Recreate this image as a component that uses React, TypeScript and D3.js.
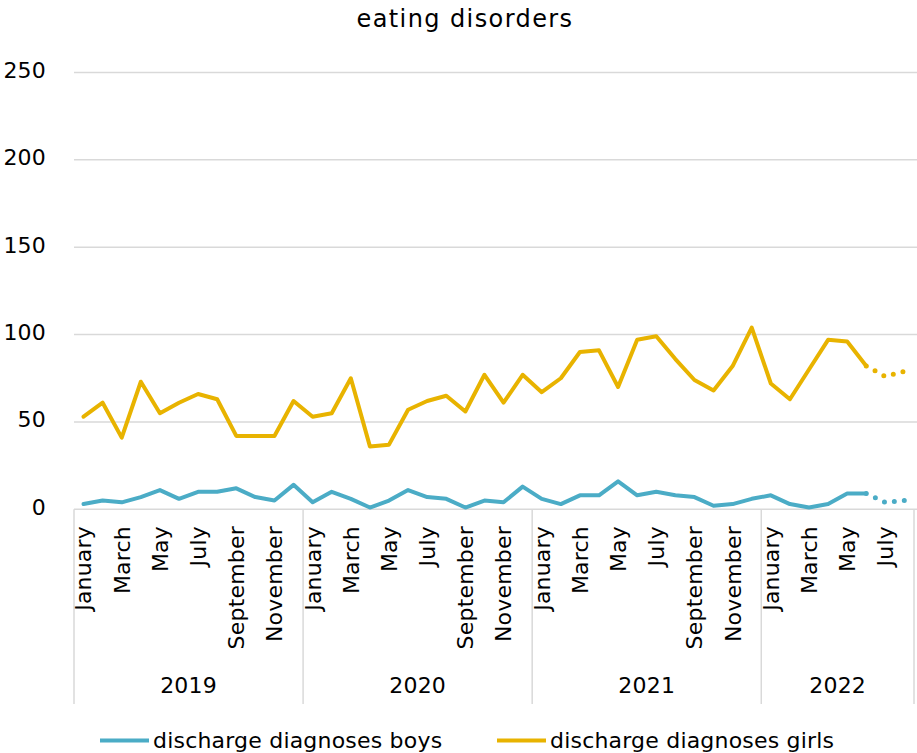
import React from 'react';
import * as d3 from 'd3';

// Monthly discharge diagnoses for eating disorders, Jan 2019 – Aug 2022
const years = ['2019', '2020', '2021', '2022'];
const monthsPerYear = [12, 12, 12, 8];
const monthNames = [
  'January', 'February', 'March', 'April', 'May', 'June',
  'July', 'August', 'September', 'October', 'November', 'December',
];
const boys = [
  3, 5, 4, 7, 11, 6, 10, 10, 12, 7, 5, 14,
  4, 10, 6, 1, 5, 11, 7, 6, 1, 5, 4, 13,
  6, 3, 8, 8, 16, 8, 10, 8, 7, 2, 3, 6,
  8, 3, 1, 3, 9, 9, 4, 5,
];
const girls = [
  53, 61, 41, 73, 55, 61, 66, 63, 42, 42, 42, 62,
  53, 55, 75, 36, 37, 57, 62, 65, 56, 77, 61, 77,
  67, 75, 90, 91, 70, 97, 99, 86, 74, 68, 82, 104,
  72, 63, 80, 97, 96, 82, 76, 79,
];
// index of the last confirmed month (June 2022); later months are provisional
const lastConfirmed = 41;
const yTicks = [0, 50, 100, 150, 200, 250];
const seriesNames = ['discharge diagnoses boys', 'discharge diagnoses girls'];
const seriesColors = ['#4bacc6', '#e8b300'];

const W = 917;
const H = 753;
const FONT = 'DejaVu Sans, Verdana, sans-serif';
const FS = 22;
const LS = 0.2;

type Cat = { key: string; year: string; month: string; mi: number };
const categories: Cat[] = years.flatMap((y, yi) =>
  d3.range(monthsPerYear[yi]).map((mi) => ({ key: `${y}-${mi}`, year: y, month: monthNames[mi], mi }))
);

export default function App() {
  const x = d3.scaleBand<string>().domain(categories.map((c) => c.key)).range([74, 914]).padding(0);
  const y = d3.scaleLinear().domain([0, 250]).range([509.3, 72.5]);
  const cx = (i: number) => (x(categories[i].key) ?? 0) + x.bandwidth() / 2;

  const line = d3
    .line<[number, number]>()
    .x((d) => cx(d[0]))
    .y((d) => y(d[1]));

  const solid = (vals: number[]) => line(vals.slice(0, lastConfirmed + 1).map((v, i) => [i, v]));
  const dotted = (vals: number[]) =>
    line(vals.slice(lastConfirmed).map((v, i) => [i + lastConfirmed, v]));

  // year group boundaries
  let acc = 0;
  const groups = years.map((yr, yi) => {
    const start = acc;
    acc += monthsPerYear[yi];
    const x0 = x(categories[start].key) ?? 0;
    const x1 = (x(categories[acc - 1].key) ?? 0) + x.bandwidth();
    return { yr, x0, x1 };
  });

  const axisY = y(0);
  const series = [boys, girls];

  return (
    <svg width={W} height={H} style={{ position: 'absolute', left: 0, top: 0, background: '#fff' }} fontFamily={FONT}>
      <text x={465} y={27} textAnchor="middle" fontSize={24} letterSpacing={1.4} fill="#000">
        eating disorders
      </text>

      {/* gridlines and value labels */}
      {yTicks.map((t) => (
        <g key={t}>
          <line x1={74} x2={917} y1={y(t)} y2={y(t)} stroke="#d9d9d9" strokeWidth={1.5} />
          <text x={46} y={y(t)} dy="0.25em" textAnchor="end" fontSize={FS} letterSpacing={LS} fill="#000">
            {t}
          </text>
        </g>
      ))}

      {/* category axis: months and years */}
      {groups.map((g, i) => (
        <g key={g.yr}>
          <line x1={g.x0} x2={g.x0} y1={axisY} y2={704} stroke="#d9d9d9" strokeWidth={1.5} />
          {i === groups.length - 1 && (
            <line x1={g.x1} x2={g.x1} y1={axisY} y2={704} stroke="#d9d9d9" strokeWidth={1.5} />
          )}
          <text x={(g.x0 + g.x1) / 2} y={693} textAnchor="middle" fontSize={FS} letterSpacing={LS} fill="#000">
            {g.yr}
          </text>
        </g>
      ))}
      {categories.map((c, i) =>
        c.mi % 2 === 0 ? (
          <text
            key={c.key}
            transform={`translate(${cx(i)},526) rotate(-90)`}
            textAnchor="end"
            dy="0.36em"
            fontSize={FS}
            letterSpacing={LS}
            fill="#000"
          >
            {c.month}
          </text>
        ) : null
      )}

      {/* series */}
      {series.map((vals, si) => (
        <g key={si}>
          <path d={solid(vals) ?? ''} fill="none" stroke={seriesColors[si]} strokeWidth={4} strokeLinejoin="round" strokeLinecap="round" />
          <path d={dotted(vals) ?? ''} fill="none" stroke={seriesColors[si]} strokeWidth={5} strokeLinecap="round" strokeDasharray="0 10" />
        </g>
      ))}

      {/* legend */}
      {seriesNames.map((name, i) => {
        const lx = i === 0 ? 100 : 497;
        return (
          <g key={name}>
            <line x1={lx} x2={lx + 49} y1={740.5} y2={740.5} stroke={seriesColors[i]} strokeWidth={4} />
            <text x={lx + 53} y={740.5} dy="0.32em" fontSize={FS} letterSpacing={LS} fill="#000">
              {name}
            </text>
          </g>
        );
      })}
    </svg>
  );
}
